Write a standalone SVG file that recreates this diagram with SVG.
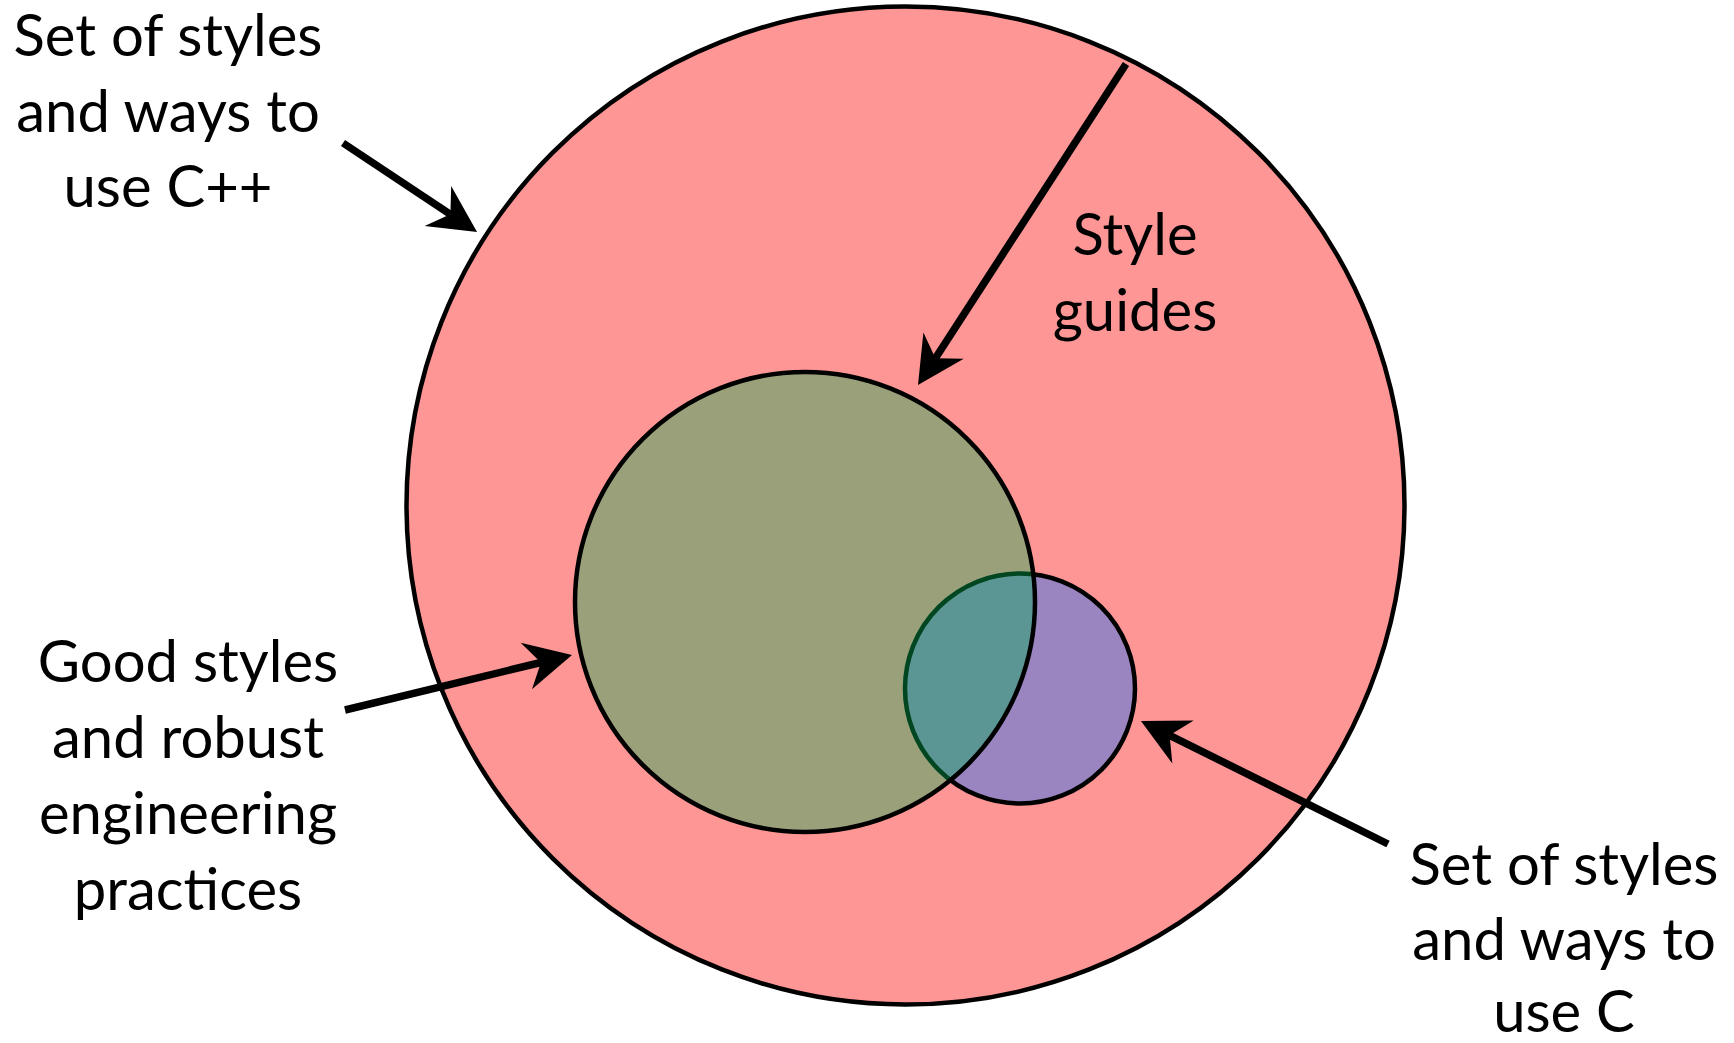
<svg xmlns="http://www.w3.org/2000/svg" width="1734" height="1043" viewBox="0 0 1734 1043">
<style>
  .lbl { font-family: Lato, "Open Sans", "Liberation Sans", sans-serif; font-size: 58px; fill: #000; text-anchor: middle; }
  .ring { stroke: #000; stroke-width: 4.5; }
  .conn { stroke: #000; stroke-width: 7.5; fill: none; stroke-linecap: butt; marker-end: url(#head); }
</style>
<defs>
  <marker id="head" markerUnits="userSpaceOnUse" viewBox="-20 -30 60 60" refX="0" refY="0" markerWidth="60" markerHeight="60" orient="auto" overflow="visible">
    <path d="M32,0 L-15,-24 L0,0 L-15,24 Z" fill="#000"/>
  </marker>
</defs>
<rect width="1734" height="1043" fill="#fff"/>
<g id="cpp-set">
  <circle class="ring" cx="905.5" cy="505.5" r="499" fill="#FF9696" stroke-width="4"/>
</g>
<g id="c-set">
  <circle class="ring" cx="1020" cy="688.5" r="115" fill="#9A85C1"/>
</g>
<g id="good-styles">
  <circle class="ring" cx="805" cy="602" r="230" fill="#00B050" fill-opacity="0.4"/>
</g>
<g id="label-cpp">
  <text class="lbl" x="168" y="56">Set of styles</text>
  <text class="lbl" x="168" y="132">and ways to</text>
  <text class="lbl" x="168" y="207">use C++</text>
</g>
<g id="label-guides">
  <text class="lbl" x="1135" y="255">Style</text>
  <text class="lbl" x="1135" y="331">guides</text>
</g>
<g id="label-good">
  <text class="lbl" x="188" y="682">Good styles</text>
  <text class="lbl" x="188" y="758">and robust</text>
  <text class="lbl" x="188" y="834">engineering</text>
  <text class="lbl" x="188" y="910">practices</text>
</g>
<g id="label-c">
  <text class="lbl" x="1564" y="885">Set of styles</text>
  <text class="lbl" x="1564" y="960">and ways to</text>
  <text class="lbl" x="1564" y="1032">use C</text>
</g>
<g id="connectors">
  <line class="conn" x1="343" y1="143" x2="450.4" y2="214.3"/>
  <line class="conn" x1="1126" y1="64" x2="935.4" y2="358.2"/>
  <line class="conn" x1="345" y1="710" x2="540.9" y2="662.5"/>
  <line class="conn" x1="1388" y1="844" x2="1169.6" y2="735.3"/>
</g>
</svg>
